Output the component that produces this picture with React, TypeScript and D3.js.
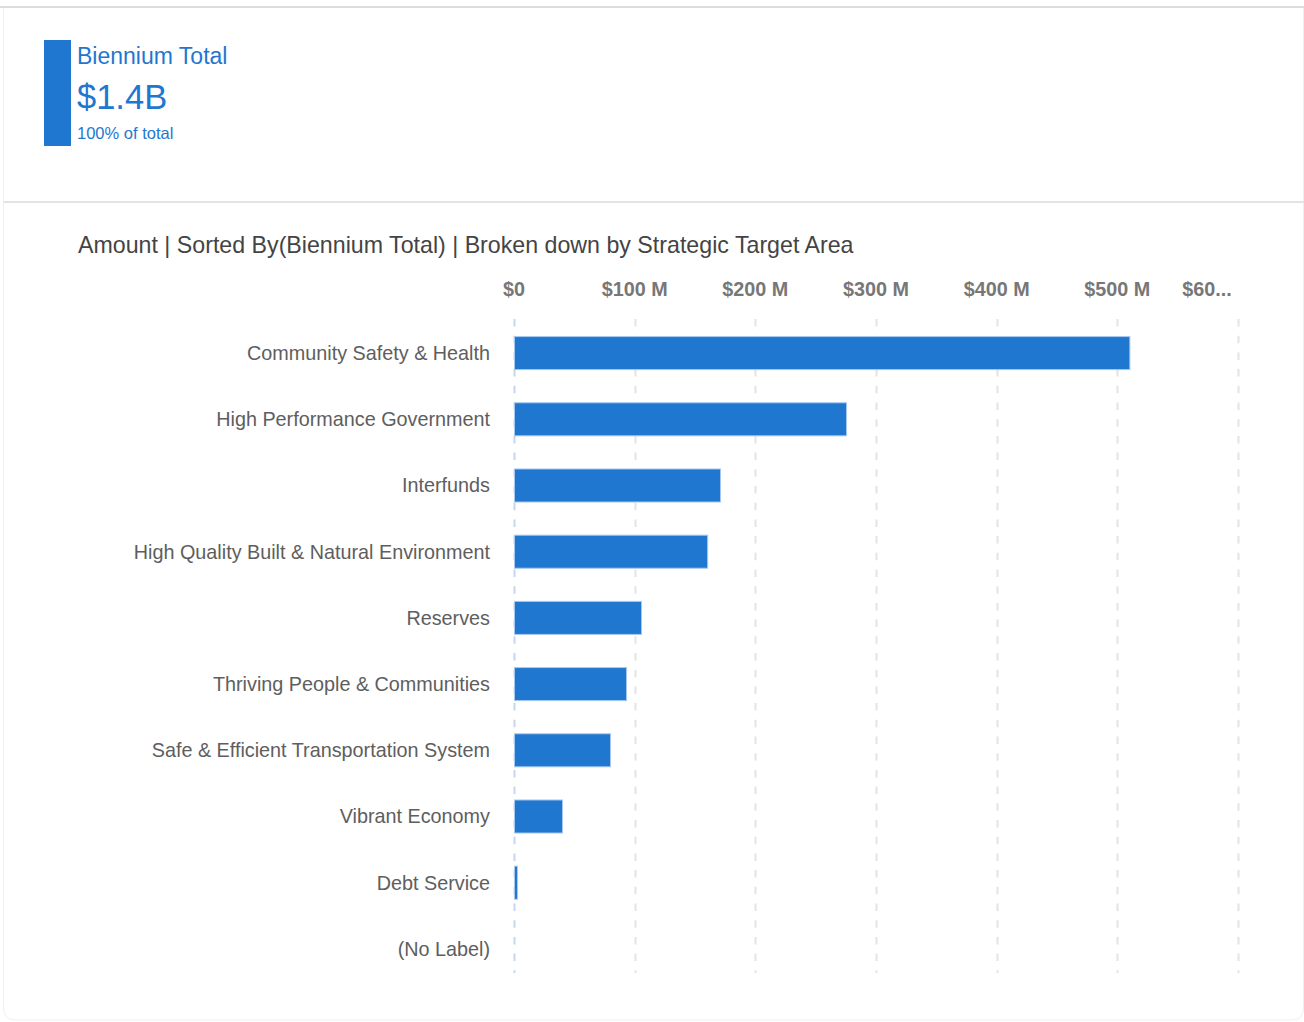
import React from "react";
import * as d3 from "d3";

const categories = [
  "Community Safety & Health",
  "High Performance Government",
  "Interfunds",
  "High Quality Built & Natural Environment",
  "Reserves",
  "Thriving People & Communities",
  "Safe & Efficient Transportation System",
  "Vibrant Economy",
  "Debt Service",
  "(No Label)",
];
const values = [510.8, 276, 171.6, 160.9, 106.1, 93.7, 80.4, 40.6, 3.3, 0];
const tickValues = [0, 100, 200, 300, 400, 500, 600];
const tickLabels = ["$0", "$100 M", "$200 M", "$300 M", "$400 M", "$500 M", "$60..."];

const kpiTitle = "Biennium Total";
const kpiValue = "$1.4B";
const kpiShare = "100% of total";
const chartTitle = "Amount | Sorted By(Biennium Total) | Broken down by Strategic Target Area";

const W = 1304;
const H = 1022;
const BLUE = "#1f77d0";
const FONT = "'Liberation Sans', Arial, sans-serif";

export default function App() {
  const x = d3.scaleLinear().domain([0, 600]).range([514, 1238]);
  const y = d3
    .scaleBand<string>()
    .domain(categories)
    .range([320, 982])
    .paddingInner(0.486)
    .paddingOuter(0.243);

  return (
    <div style={{ position: "absolute", left: 0, top: 0 }}>
      <svg width={W} height={H} style={{ display: "block" }}>
        <rect x={0} y={0} width={W} height={H} fill="#ffffff" />
        {/* card frame */}
        <path
          d={`M3.5,8 L3.5,${H - 14} Q3.5,${H - 2} 15.5,${H - 2} L${W - 12},${H - 2} Q${W - 0.5},${H - 2} ${W - 0.5},${H - 14} L${W - 0.5},8`}
          fill="none"
          stroke="#efefef"
          strokeWidth={1}
        />
        <rect x={0} y={6} width={W} height={2} fill="#dcdcdc" />
        <rect x={4} y={201} width={W - 4} height={2} fill="#e3e3e3" />

        {/* KPI */}
        <rect x={44} y={40} width={27} height={106} fill={BLUE} />
        <text x={77} y={64} fontFamily={FONT} fontSize={23} fill={BLUE}>
          {kpiTitle}
        </text>
        <text x={77} y={109} fontFamily={FONT} fontSize={34.5} fill={BLUE}>
          {kpiValue}
        </text>
        <text x={77} y={139} fontFamily={FONT} fontSize={16.5} fill={BLUE}>
          {kpiShare}
        </text>

        {/* chart title */}
        <text x={78} y={253} fontFamily={FONT} fontSize={23.2} fill="#444444">
          {chartTitle}
        </text>

        {/* gridlines */}
        {tickValues.map((t, i) => (
          <line
            key={"g" + t}
            x1={Math.round(x(t)) + 0.5}
            x2={Math.round(x(t)) + 0.5}
            y1={319}
            y2={973}
            stroke={i === 0 ? "#c8d6ef" : "#e4e4e4"}
            strokeWidth={2}
            strokeDasharray="7.5 9.2"
          />
        ))}

        {/* axis labels */}
        {tickValues.map((t, i) => (
          <text
            key={"t" + t}
            x={i === tickValues.length - 1 ? x(t) - 31 : x(t)}
            y={296}
            textAnchor="middle"
            fontFamily={FONT}
            fontWeight="bold"
            fontSize={19.8}
            fill="#777777"
          >
            {tickLabels[i]}
          </text>
        ))}

        {/* bars */}
        {categories.map((c, i) =>
          values[i] > 0 ? (
            <rect
              key={"b" + c}
              x={x(0) + 0.5}
              y={(y(c) as number) + 0.5}
              width={Math.max(x(values[i]) - x(0) - 1, 2)}
              height={y.bandwidth() - 1}
              fill={BLUE}
              stroke="#a8c8ef"
              strokeWidth={1}
            />
          ) : null
        )}

        {/* category labels */}
        {categories.map((c) => (
          <text
            key={"l" + c}
            x={490}
            y={(y(c) as number) + y.bandwidth() / 2}
            dy="0.35em"
            textAnchor="end"
            fontFamily={FONT}
            fontSize={19.8}
            fill="#5e5e5e"
          >
            {c}
          </text>
        ))}
      </svg>
    </div>
  );
}
